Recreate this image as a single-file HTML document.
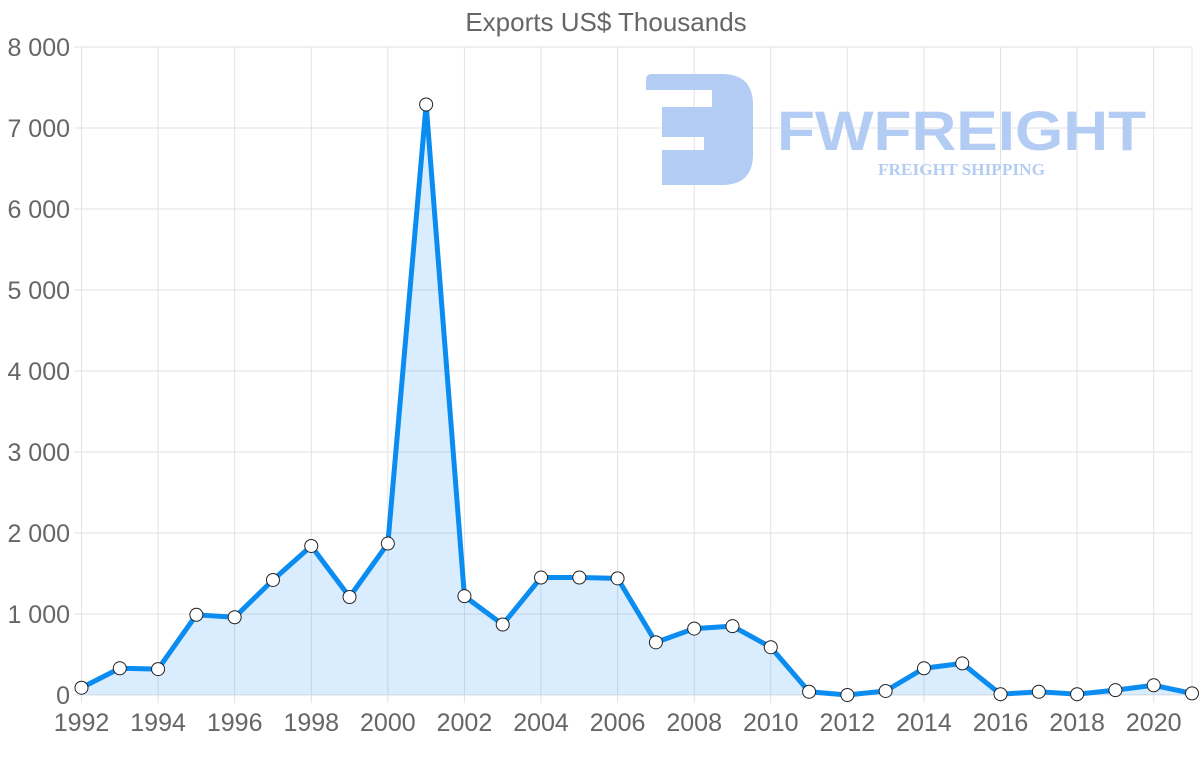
<!DOCTYPE html>
<html><head><meta charset="utf-8"><style>
html,body{margin:0;padding:0;background:#fff;}
svg{display:block;font-family:"Liberation Sans",sans-serif;}
</style></head><body>
<svg width="1200" height="763" viewBox="0 0 1200 763">
<text x="606" y="31" text-anchor="middle" font-size="26" fill="#666">Exports US$ Thousands</text>
<g stroke="#e2e2e2" stroke-width="1" id="grid"></g>
<g id="logo" fill="#b3ccf3">
 <path fill-rule="evenodd" d="M646 80 Q646 74 652 74 H722 Q753 74 753 105 V154 Q753 185 722 185 H662 V150 H704 V137 H662 V107 H712 V90 H646 Z"/>
 <text x="777" y="150" font-size="56" font-weight="bold" textLength="369" lengthAdjust="spacingAndGlyphs" fill="#b3ccf3">FWFREIGHT</text>
 <text x="878" y="175" font-size="17" font-weight="bold" font-family="Liberation Serif,serif" textLength="167" lengthAdjust="spacingAndGlyphs" fill="#b3ccf3">FREIGHT SHIPPING</text>
</g>
<g id="labels" font-size="25" fill="#666"></g>
<path id="area" fill="rgba(0,136,255,0.15)"/>
<path id="line" fill="none" stroke="#0a8cf0" stroke-width="5" stroke-linejoin="round"/>
<g id="pts" fill="#fff" stroke="#222" stroke-width="1"></g>
</svg>
<script>
const ns="http://www.w3.org/2000/svg";
const d=[90,330,320,990,960,1420,1840,1210,1870,7290,1220,870,1450,1450,1440,650,820,850,590,40,0,50,330,390,10,40,10,60,120,20];
const X=i=>81.5+i*(1192-81.5)/29, Y=v=>695-v*648/8000;
const g=document.getElementById('grid'),L=document.getElementById('labels');
function el(p,t,a){const e=document.createElementNS(ns,t);for(const k in a)e.setAttribute(k,a[k]);p.appendChild(e);return e;}
for(let k=0;k<=8;k++){const y=Y(k*1000);el(g,'line',{x1:74,x2:1192,y1:y,y2:y});
 const t=el(L,'text',{x:70,y:y+9,'text-anchor':'end'});t.textContent=k==0?'0':k+' 000';}
for(let i=0;i<30;i+=2){const x=X(i);el(g,'line',{x1:x,x2:x,y1:47,y2:703});
 const t=el(L,'text',{x:x,y:731,'text-anchor':'middle'});t.textContent=1992+i;}
el(g,'line',{x1:1192,x2:1192,y1:47,y2:695});
let p=d.map((v,i)=>(i?'L':'M')+X(i)+' '+Y(v)).join(' ');
document.getElementById('line').setAttribute('d',p);
document.getElementById('area').setAttribute('d',p+` L${X(29)} 695 L${X(0)} 695 Z`);
const P=document.getElementById('pts');
d.forEach((v,i)=>el(P,'circle',{cx:X(i),cy:Y(v),r:6.5}));
</script>
</body></html>
